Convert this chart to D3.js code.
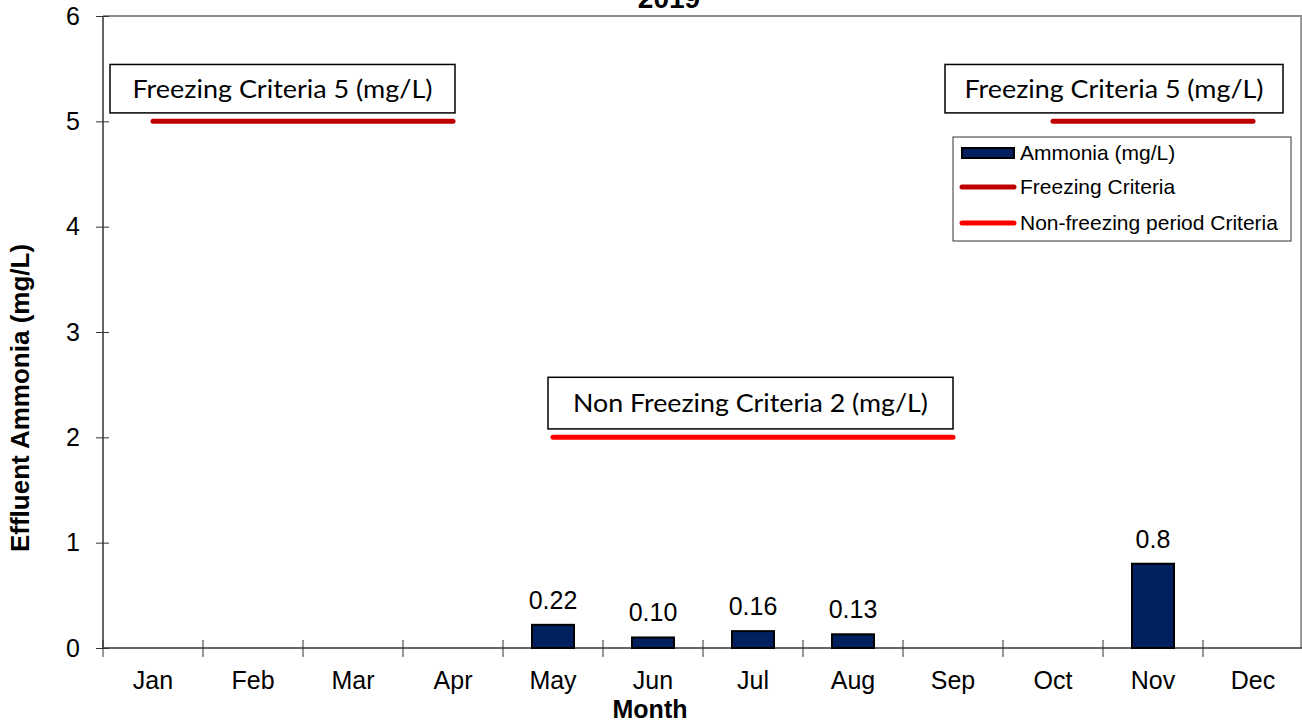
<!DOCTYPE html>
<html>
<head>
<meta charset="utf-8">
<script src="https://cdn.jsdelivr.net/npm/d3@7/dist/d3.min.js"></script>
<style>
  html, body { margin: 0; padding: 0; background: #fff; }
  svg { display: block; }
</style>
</head>
<body>
<svg id="chart" width="1302" height="726"></svg>
<script>
// Monthly effluent ammonia, 2019
const months = ["Jan","Feb","Mar","Apr","May","Jun","Jul","Aug","Sep","Oct","Nov","Dec"];
const ammonia = [null, null, null, null, 0.22, 0.10, 0.16, 0.13, null, null, 0.8, null];
const ammoniaLabels = ["", "", "", "", "0.22", "0.10", "0.16", "0.13", "", "", "0.8", ""];
const yTicks = [0, 1, 2, 3, 4, 5, 6];

// Criteria segments: from month, to month, limit (mg/L)
const freezingCriteria = [
  { from: "Jan", to: "Apr", value: 5 },
  { from: "Oct", to: "Dec", value: 5 }
];
const nonFreezingCriteria = [
  { from: "May", to: "Sep", value: 2 }
];
const annotationTexts = ["Freezing Criteria 5 (mg/L)", "Freezing Criteria 5 (mg/L)", "Non Freezing Criteria 2 (mg/L)"];
const legendItems = ["Ammonia (mg/L)", "Freezing Criteria", "Non-freezing period Criteria"];

const svg = d3.select("#chart");
const plot = { left: 103, right: 1302, top: 16, bottom: 648 };

const x = d3.scaleBand().domain(months).range([plot.left, plot.left + 1200]).padding(0);
const xi = d3.scaleLinear().domain([0, 12]).range([plot.left, plot.left + 1200]);
const y = d3.scaleLinear().domain([0, 6]).range([plot.bottom, plot.top]);
const cx = m => x(m) + x.bandwidth() / 2;

const axisFont = "'Liberation Sans', Arial, sans-serif";
const boxFont = "Lato, 'Open Sans', sans-serif";

// plot-area border (top and right)
svg.append("path")
  .attr("d", `M${plot.left},${plot.top}H${plot.right - 0.75}V${plot.bottom}`)
  .attr("fill", "none").attr("stroke", "#8c8c8c").attr("stroke-width", 2);

// title (runs off the top edge)
svg.append("text")
  .attr("x", 669).attr("y", 8)
  .attr("text-anchor", "middle")
  .attr("font-family", axisFont).attr("font-weight", "bold").attr("font-size", 28)
  .text("2019");

// y axis
const yAxis = svg.append("g").attr("transform", `translate(${plot.left},0)`)
  .call(d3.axisLeft(y).tickValues(yTicks).tickFormat(d3.format("d")).tickSize(7).tickPadding(16));
yAxis.select(".domain").attr("stroke", "#333").attr("stroke-width", 1.5).attr("d", `M0,${plot.top}V${plot.bottom}`);
yAxis.selectAll(".tick line").attr("stroke", "#333").attr("x1", -7).attr("x2", 6);
yAxis.selectAll(".tick text").attr("font-family", axisFont).attr("font-size", 25).attr("fill", "#000");

// x axis: ticks on month boundaries, labels centred in bands
const xAxisG = svg.append("g").attr("transform", `translate(0,${plot.bottom})`);
xAxisG.append("line")
  .attr("x1", plot.left).attr("x2", plot.right)
  .attr("stroke", "#333").attr("stroke-width", 1.5);
xAxisG.selectAll("line.tk")
  .data(d3.range(0, 12))
  .join("line").attr("class", "tk")
  .attr("x1", d => xi(d)).attr("x2", d => xi(d))
  .attr("y1", -8).attr("y2", 9)
  .attr("stroke", "#333").attr("stroke-width", 1);
xAxisG.selectAll("text")
  .data(months)
  .join("text")
  .attr("x", d => cx(d)).attr("y", 41)
  .attr("text-anchor", "middle")
  .attr("font-family", axisFont).attr("font-size", 25).attr("fill", "#000")
  .text(d => d);

// axis titles
svg.append("text")
  .attr("x", 650).attr("y", 718)
  .attr("text-anchor", "middle")
  .attr("font-family", axisFont).attr("font-weight", "bold").attr("font-size", 25)
  .text("Month");
svg.append("text")
  .attr("transform", `translate(29,398) rotate(-90)`)
  .attr("text-anchor", "middle")
  .attr("font-family", axisFont).attr("font-weight", "bold").attr("font-size", 26)
  .text("Effluent Ammonia (mg/L)");

// bars
const barData = months.map((m, i) => ({ m, v: ammonia[i], label: ammoniaLabels[i] })).filter(d => d.v != null);
const barW = x.bandwidth() * 0.42;
svg.selectAll("rect.bar")
  .data(barData)
  .join("rect").attr("class", "bar")
  .attr("x", d => cx(d.m) - barW / 2)
  .attr("y", d => y(d.v))
  .attr("width", barW)
  .attr("height", d => y(0) - y(d.v))
  .attr("fill", "#002060").attr("stroke", "#000").attr("stroke-width", 2);
svg.selectAll("text.val")
  .data(barData)
  .join("text").attr("class", "val")
  .attr("x", d => cx(d.m)).attr("y", d => y(d.v) - 16)
  .attr("text-anchor", "middle")
  .attr("font-family", axisFont).attr("font-size", 25).attr("fill", "#000")
  .text(d => d.label);

// criteria lines
function drawCriteria(data, color) {
  svg.selectAll(null)
    .data(data)
    .join("line")
    .attr("x1", d => cx(d.from)).attr("x2", d => cx(d.to))
    .attr("y1", d => y(d.value)).attr("y2", d => y(d.value))
    .attr("stroke", color).attr("stroke-width", 5).attr("stroke-linecap", "round");
}
drawCriteria(freezingCriteria, "#c00000");
drawCriteria(nonFreezingCriteria, "#ff0000");

// annotation boxes (month-index / value units)
const boxes = [
  { x0: 0.07, x1: 3.52, top: 5.54, bot: 5.08, textW: 300 },
  { x0: 8.42, x1: 11.8, top: 5.54, bot: 5.08, textW: 299 },
  { x0: 4.45, x1: 8.50, top: 2.57, bot: 2.08, textW: 355 }
];
boxes.forEach((b, i) => {
  svg.append("rect")
    .attr("x", xi(b.x0)).attr("y", y(b.top))
    .attr("width", xi(b.x1) - xi(b.x0)).attr("height", y(b.bot) - y(b.top))
    .attr("fill", "#fff").attr("stroke", "#000").attr("stroke-width", 1.5);
  svg.append("text")
    .attr("x", (xi(b.x0) + xi(b.x1)) / 2)
    .attr("y", (y(b.top) + y(b.bot)) / 2 + 9)
    .attr("text-anchor", "middle")
    .attr("font-family", boxFont).attr("font-size", 25).attr("fill", "#000")
    .attr("textLength", b.textW).attr("lengthAdjust", "spacingAndGlyphs")
    .text(annotationTexts[i]);
});

// legend
const lg = svg.append("g").attr("transform", "translate(953,137)");
lg.append("rect").attr("width", 338).attr("height", 104)
  .attr("fill", "#fff").attr("stroke", "#333").attr("stroke-width", 1);
const rowY = [16, 50, 86];
lg.append("rect").attr("x", 9).attr("y", rowY[0] - 5).attr("width", 52).attr("height", 10)
  .attr("fill", "#002060").attr("stroke", "#000").attr("stroke-width", 2);
lg.append("line").attr("x1", 9).attr("x2", 61).attr("y1", rowY[1]).attr("y2", rowY[1])
  .attr("stroke", "#c00000").attr("stroke-width", 5).attr("stroke-linecap", "round");
lg.append("line").attr("x1", 9).attr("x2", 61).attr("y1", rowY[2]).attr("y2", rowY[2])
  .attr("stroke", "#ff0000").attr("stroke-width", 5).attr("stroke-linecap", "round");
lg.selectAll("text.lg")
  .data(legendItems)
  .join("text").attr("class", "lg")
  .attr("x", 67).attr("y", (d, i) => rowY[i] + 7)
  .attr("font-family", axisFont).attr("font-size", 21).attr("fill", "#000")
  .text(d => d);
</script>
</body>
</html>
